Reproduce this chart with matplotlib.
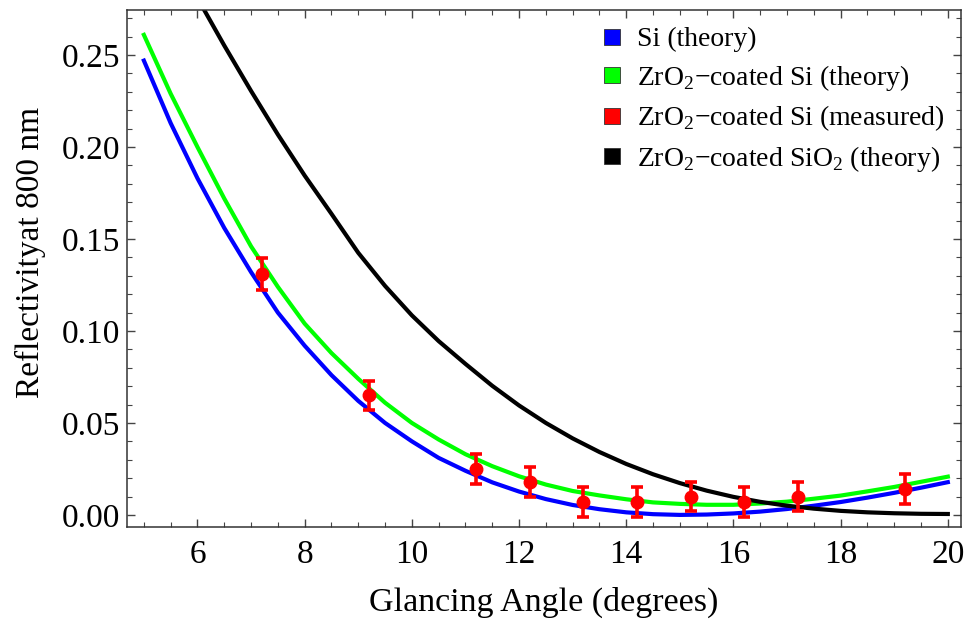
import matplotlib
matplotlib.use("Agg")
import matplotlib.pyplot as plt
from matplotlib.lines import Line2D
from matplotlib.ticker import MultipleLocator, FormatStrFormatter

plt.rcParams['font.family'] = ['Liberation Serif', 'DejaVu Serif']
plt.rcParams['mathtext.fontset'] = 'custom'
plt.rcParams['mathtext.rm'] = 'Liberation Serif'

# theory curves, every 0.5 degree
angle = [5.0, 5.5, 6.0, 6.5, 7.0, 7.5, 8.0, 8.5, 9.0, 9.5, 10.0, 10.5, 11.0, 11.5, 12.0,
         12.5, 13.0, 13.5, 14.0, 14.5, 15.0, 15.5, 16.0, 16.5, 17.0, 17.5, 18.0, 18.5,
         19.0, 19.5, 20.0]
si_theory = [0.247, 0.213, 0.183, 0.156, 0.132, 0.110, 0.092, 0.076, 0.062, 0.050, 0.040,
             0.031, 0.024, 0.0177, 0.0127, 0.0086, 0.0054, 0.0031, 0.0014, 0.0004, 0.0,
             0.0002, 0.0008, 0.0018, 0.0032, 0.0050, 0.0070, 0.0094, 0.0120, 0.0148, 0.0178]
zro2_si_theory = [0.261, 0.229, 0.200, 0.172, 0.146, 0.124, 0.104, 0.088, 0.074, 0.061,
                  0.050, 0.041, 0.033, 0.0265, 0.021, 0.0165, 0.0130, 0.0106, 0.0085,
                  0.0068, 0.0060, 0.0055, 0.0055, 0.0062, 0.0072, 0.0088, 0.0105, 0.0128,
                  0.0152, 0.0180, 0.0208]
angle_sio2 = [6.0, 6.5, 7.0, 7.5, 8.0, 8.5, 9.0, 9.5, 10.0, 10.5, 11.0, 11.5, 12.0, 12.5,
              13.0, 13.5, 14.0, 14.5, 15.0, 15.5, 16.0, 16.5, 17.0, 17.5, 18.0, 18.5,
              19.0, 19.5, 20.0]
zro2_sio2_theory = [0.281, 0.2552, 0.2305, 0.2068, 0.1845, 0.1637, 0.1425, 0.1245, 0.1085,
                    0.0945, 0.0821, 0.0702, 0.0595, 0.0500, 0.0416, 0.0342, 0.0277, 0.0221,
                    0.0173, 0.0132, 0.0098, 0.0071, 0.0050, 0.0034, 0.0022, 0.0014, 0.0009,
                    0.0006, 0.0005]

# measured points
meas_angle = [7.2, 9.2, 11.2, 12.2, 13.2, 14.2, 15.2, 16.2, 17.2, 19.2]
meas_refl = [0.131, 0.065, 0.025, 0.018, 0.007, 0.007, 0.010, 0.007, 0.010, 0.014]
meas_err = [0.0088, 0.008, 0.008, 0.008, 0.008, 0.008, 0.008, 0.008, 0.008, 0.008]

labels = ['Si (theory)',
          r'ZrO$_{\mathrm{2}}$−coated Si (theory)',
          r'ZrO$_{\mathrm{2}}$−coated Si (measured)',
          r'ZrO$_{\mathrm{2}}$−coated SiO$_{\mathrm{2}}$ (theory)']
colors = ['#0000ff', '#00ff00', '#ff0000', '#000000']

fig = plt.figure(figsize=(9.7, 6.27), dpi=100)
ax = fig.add_axes([0.1312, 0.160, 0.8592, 0.824])

ax.plot(angle, si_theory, color=colors[0], lw=3, solid_joinstyle='round')
ax.plot(angle, zro2_si_theory, color=colors[1], lw=3, solid_joinstyle='round')
ax.plot(angle_sio2, zro2_sio2_theory, color=colors[3], lw=3, solid_joinstyle='round')
ax.errorbar(meas_angle, meas_refl, yerr=meas_err, fmt='o', color=colors[2],
            ms=9, elinewidth=2.6, capsize=4, capthick=2.6, zorder=5)

ax.set_xlim(4.69, 20.24)
ax.set_ylim(-0.0064, 0.2745)
ax.xaxis.set_major_locator(MultipleLocator(2))
ax.xaxis.set_minor_locator(MultipleLocator(0.5))
ax.yaxis.set_major_locator(MultipleLocator(0.05))
ax.yaxis.set_minor_locator(MultipleLocator(0.01))
ax.yaxis.set_major_formatter(FormatStrFormatter('%.2f'))
ax.tick_params(which='both', direction='in', top=True, right=True, color='#444444')
ax.tick_params(which='major', length=6, width=1, labelsize=24)
ax.tick_params(which='minor', length=3.5, width=0.8)
ax.tick_params(axis='x', which='major', pad=9)
ax.tick_params(axis='y', which='major', pad=5)
for s in ax.spines.values():
    s.set_linewidth(1.1)
    s.set_color('#333333')

ax.set_xlabel('Glancing Angle (degrees)', fontsize=24.5, labelpad=12)
ax.set_ylabel('Reflectivityat 800 nm', fontsize=24)
ax.yaxis.set_label_coords(-0.098, 0.53)

handles = [Line2D([], [], ls='none', marker='s', ms=12, mfc=c, mec='#333333', mew=0.6)
           for c in colors]
ax.legend(handles, labels, loc='upper left', bbox_to_anchor=(0.545, 1.005), frameon=False,
          fontsize=20, handlelength=0.8, handletextpad=0.5, labelspacing=0.38,
          borderaxespad=0.3)

fig.savefig('out.png', dpi=100)
